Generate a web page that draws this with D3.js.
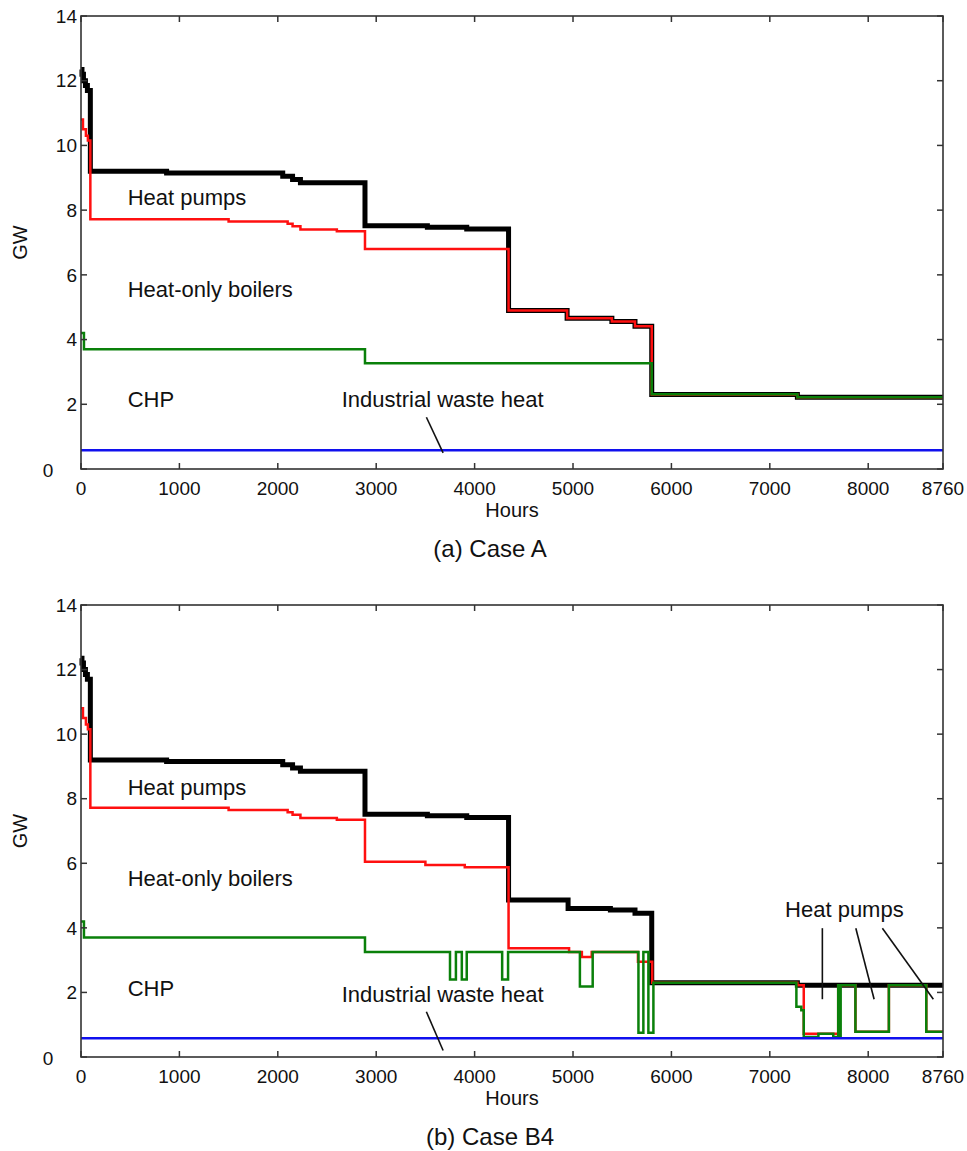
<!DOCTYPE html>
<html><head><meta charset="utf-8">
<script src="https://cdn.jsdelivr.net/npm/d3@7"></script>
<style>
body{margin:0;background:#fff;}
text{font-family:Arial,"Liberation Sans",sans-serif;fill:#111;}
</style>
</head><body>
<svg id="chart" width="967" height="1151"></svg>
<script>
// ---------- data ----------
const xTicks = [0,1000,2000,3000,4000,5000,6000,7000,8000,8760];
const yTicks = [0,2,4,6,8,10,12,14];
const panelTitles = ["(a) Case A", "(b) Case B4"];
const xLabel = "Hours";
const yLabel = "GW";

// Case A (step series: hour where value starts, value in GW)
const blackA_h = [0,10,25,45,65,95,870,2050,2150,2230,2886,3520,3920,4345,4940,5395,5630,5800,7280];
const blackA_v = [12.35,12.2,12.0,11.85,11.7,9.2,9.15,9.05,8.95,8.85,7.52,7.47,7.42,4.9,4.66,4.56,4.41,2.3,2.22];
const redA_h   = [0,20,50,70,95,1500,2100,2150,2230,2600,2886,4345,4940,5395,5630,5800,7280];
const redA_v   = [10.8,10.5,10.3,10.15,7.72,7.65,7.58,7.5,7.4,7.35,6.8,4.9,4.66,4.56,4.41,2.3,2.22];
const greenA_h = [0,30,2886,5800,7280];
const greenA_v = [4.2,3.7,3.27,2.31,2.22];
const blueA_h  = [0];
const blueA_v  = [0.58];

// Case B4
const blackB_h = [0,10,25,45,65,95,870,2050,2150,2230,2886,3520,3920,4345,4950,5380,5630,5800,7280];
const blackB_v = [12.35,12.2,12.0,11.85,11.7,9.2,9.15,9.05,8.95,8.85,7.52,7.47,7.42,4.86,4.6,4.55,4.45,2.3,2.22];
const redB_h   = [0,20,50,70,95,1500,2100,2150,2230,2600,2886,3500,3900,4345,4960,5090,5190,5660,5805,7280,7345,7695,7870,8210,8590];
const redB_v   = [10.8,10.5,10.3,10.15,7.72,7.65,7.58,7.5,7.4,7.35,6.05,5.95,5.88,3.37,3.25,3.1,3.25,2.95,2.3,2.22,0.72,2.22,0.78,2.22,0.78];
const greenB_h = [0,30,2886,3750,3810,3870,3920,4280,4340,5070,5200,5665,5715,5766,5817,7270,7320,7345,7494,7645,7695,7705,7720,7870,8210,8590];
const greenB_v = [4.2,3.7,3.25,2.4,3.25,2.4,3.25,2.4,3.25,2.18,3.25,0.75,3.25,0.75,2.3,1.56,1.45,0.62,0.72,0.62,2.22,0.62,2.22,0.78,2.22,0.78];
const blueB_h  = [0];
const blueB_v  = [0.58];

// annotations (hour, GW of text baseline)
const labelsA = [
  {t:"Heat pumps", h:475, v:8.15},
  {t:"Heat-only boilers", h:475, v:5.33},
  {t:"CHP", h:475, v:1.92},
  {t:"Industrial waste heat", h:2650, v:1.92}
];
const leadersA = [[3510,1.6,3680,0.5]];
const labelsB = [
  {t:"Heat pumps", h:475, v:8.11},
  {t:"Heat-only boilers", h:475, v:5.30},
  {t:"CHP", h:475, v:1.89},
  {t:"Industrial waste heat", h:2650, v:1.71},
  {t:"Heat pumps", h:7155, v:4.33}
];
const leadersB = [[3510,1.4,3680,0.2],[7534,3.99,7534,1.79],[7874,3.99,8060,1.79],[8144,3.99,8662,1.79]];

// ---------- drawing ----------
const svg = d3.select("#chart");
const L = 81, R = 943;
const panels = [
  {top:16, bottom:469, title:panelTitles[0],
   series:[[blackA_h,blackA_v,"#000",5],[redA_h,redA_v,"#ff1010",2.5],[greenA_h,greenA_v,"#0a800a",2.5],[blueA_h,blueA_v,"#1010ee",2.5]],
   labels:labelsA, leaders:leadersA},
  {top:605, bottom:1057, title:panelTitles[1],
   series:[[blackB_h,blackB_v,"#000",5],[redB_h,redB_v,"#ff1010",2.5],[greenB_h,greenB_v,"#0a800a",2.5],[blueB_h,blueB_v,"#1010ee",2.5]],
   labels:labelsB, leaders:leadersB}
];

const x = d3.scaleLinear().domain([0,8760]).range([L,R]);

panels.forEach(p => {
  const y = d3.scaleLinear().domain([0,14]).range([p.bottom,p.top]);
  const g = svg.append("g");
  const line = d3.line().x(d=>x(d[0])).y(d=>y(d[1])).curve(d3.curveStepAfter);

  // series
  p.series.forEach(([hs,vs,col,w]) => {
    const pts = hs.map((h,i)=>[h,vs[i]]);
    pts.push([8760, vs[vs.length-1]]);
    g.append("path").attr("d", line(pts)).attr("fill","none")
      .attr("stroke",col).attr("stroke-width",w).attr("stroke-linejoin","miter");
  });

  // box axes with inward ticks
  const tk = 6;
  const axisCol = "#333";
  const ax = g.append("g");
  ax.append("rect").attr("x",L).attr("y",p.top).attr("width",R-L).attr("height",p.bottom-p.top)
    .attr("fill","none").attr("stroke",axisCol).attr("stroke-width",1.6);
  xTicks.forEach(t => {
    ax.append("line").attr("x1",x(t)).attr("x2",x(t)).attr("y1",p.bottom).attr("y2",p.bottom-tk).attr("stroke",axisCol).attr("stroke-width",1.5);
    ax.append("line").attr("x1",x(t)).attr("x2",x(t)).attr("y1",p.top).attr("y2",p.top+tk).attr("stroke",axisCol).attr("stroke-width",1.5);
    ax.append("text").attr("x",x(t)).attr("y",p.bottom+26).attr("text-anchor","middle")
      .attr("font-size",19).text(t);
  });
  yTicks.forEach(t => {
    ax.append("line").attr("x1",L).attr("x2",L+tk).attr("y1",y(t)).attr("y2",y(t)).attr("stroke",axisCol).attr("stroke-width",1.5);
    ax.append("line").attr("x1",R).attr("x2",R-tk).attr("y1",y(t)).attr("y2",y(t)).attr("stroke",axisCol).attr("stroke-width",1.5);
    if (t === 0) {
      ax.append("text").attr("x",48).attr("y",y(t)+1).attr("dy","0.35em").attr("text-anchor","middle")
        .attr("font-size",19).text(t);
    } else {
      ax.append("text").attr("x",L-4).attr("y",y(t)).attr("dy","0.35em").attr("text-anchor","end")
        .attr("font-size",19).text(t);
    }
  });

  // axis labels & title
  g.append("text").attr("x",512).attr("y",p.bottom+48).attr("text-anchor","middle").attr("font-size",20).text(xLabel);
  g.append("text").attr("transform",`translate(27,${(p.top+p.bottom)/2}) rotate(-90)`)
    .attr("text-anchor","middle").attr("font-size",20).text(yLabel);
  g.append("text").attr("x",490).attr("y",p.bottom+88).attr("text-anchor","middle").attr("font-size",24).text(p.title);

  // annotations
  p.labels.forEach(a => {
    g.append("text").attr("x",x(a.h)).attr("y",y(a.v)).attr("font-size",22).text(a.t);
  });
  p.leaders.forEach(([h1,v1,h2,v2]) => {
    g.append("line").attr("x1",x(h1)).attr("y1",y(v1)).attr("x2",x(h2)).attr("y2",y(v2))
      .attr("stroke","#111").attr("stroke-width",1.6);
  });
});
</script>
</body></html>
